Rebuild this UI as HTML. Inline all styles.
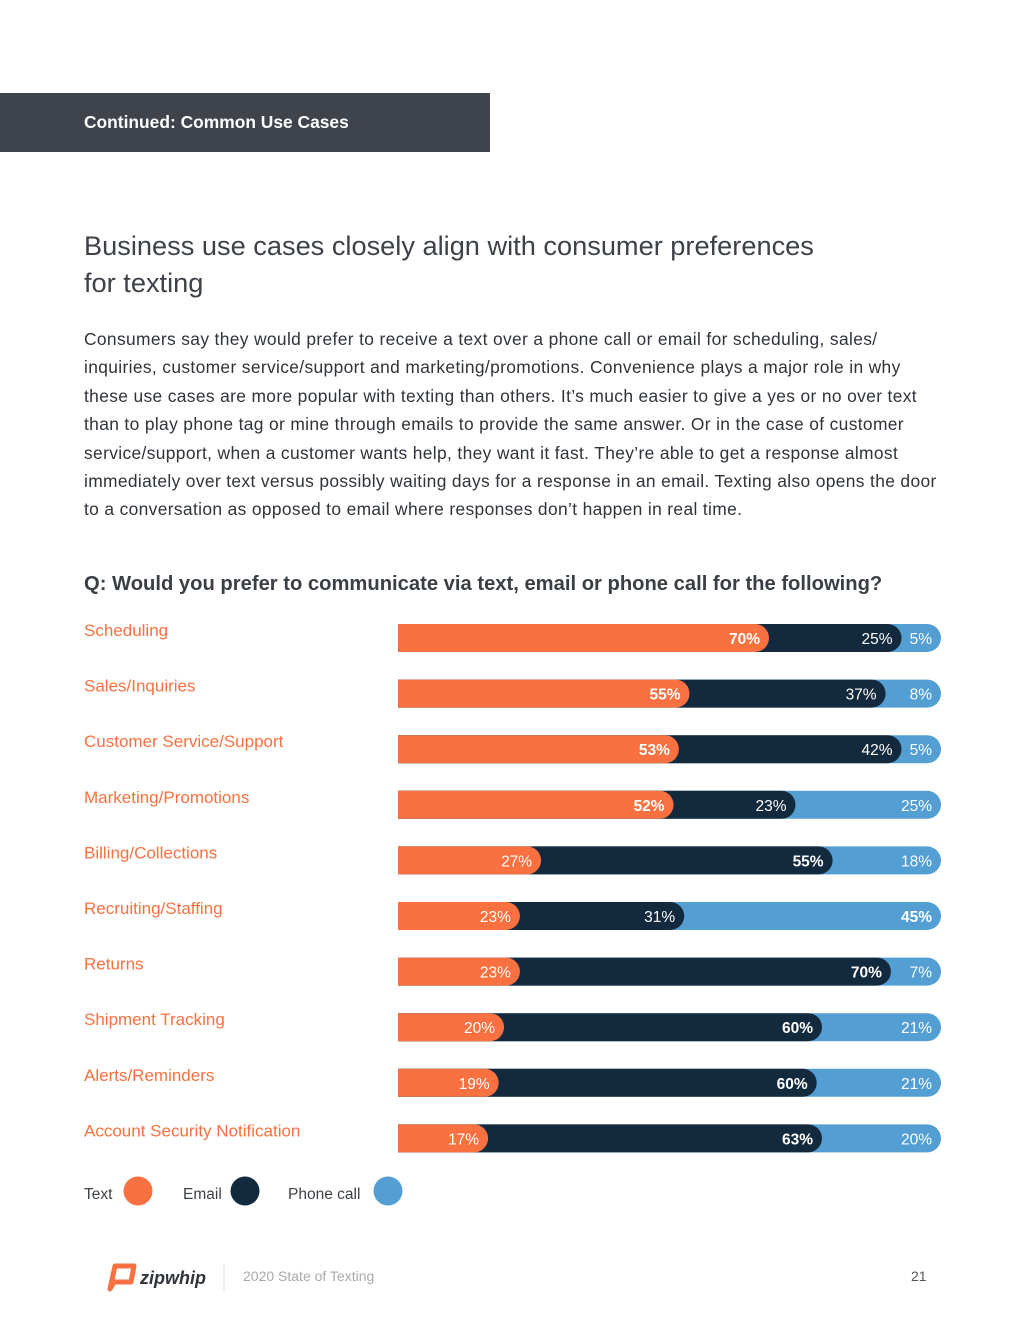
<!DOCTYPE html>
<html><head><meta charset="utf-8">
<style>
body{margin:0;width:1020px;height:1320px;background:#fff;position:relative;font-family:"Liberation Sans",sans-serif;overflow:hidden}
.hdr{position:absolute;left:0;top:93px;width:490px;height:59px;background:#3e434c;color:#fff;font-weight:bold;font-size:17.4px;line-height:59px;padding-left:84px;box-sizing:border-box}
.title{position:absolute;left:84px;top:227px;font-size:27.2px;line-height:37px;color:#3d4148;width:800px}
.para{position:absolute;left:84px;top:325px;font-size:17.4px;letter-spacing:0.35px;line-height:28.4px;color:#2f333a;width:900px}
.para div{white-space:nowrap}
.q{position:absolute;left:84px;top:573px;font-size:20.2px;font-weight:bold;color:#3a3e45;white-space:nowrap}
svg{position:absolute;left:0;top:0}
.foot{position:absolute;top:1268px;font-size:14px;color:#aaa}
</style></head><body>
<div class="hdr">Continued: Common Use Cases</div>
<div class="title">Business use cases closely align with consumer preferences<br>for texting</div>
<div class="para">
<div>Consumers say they would prefer to receive a text over a phone call or email for scheduling, sales/</div>
<div>inquiries, customer service/support and marketing/promotions. Convenience plays a major role in why</div>
<div>these use cases are more popular with texting than others. It’s much easier to give a yes or no over text</div>
<div>than to play phone tag or mine through emails to provide the same answer. Or in the case of customer</div>
<div>service/support, when a customer wants help, they want it fast. They’re able to get a response almost</div>
<div>immediately over text versus possibly waiting days for a response in an email. Texting also opens the door</div>
<div>to a conversation as opposed to email where responses don’t happen in real time.</div>
</div>
<div class="q">Q: Would you prefer to communicate via text, email or phone call for the following?</div>
<svg id="chart" width="1020" height="1320"></svg>
<div class="foot" style="left:243px">2020 State of Texting</div>
<div class="foot" style="left:911px;color:#555">21</div>
<script>
const categories=["Scheduling","Sales/Inquiries","Customer Service/Support","Marketing/Promotions","Billing/Collections","Recruiting/Staffing","Returns","Shipment Tracking","Alerts/Reminders","Account Security Notification"];
const textVals=[70,55,53,52,27,23,23,20,19,17];
const emailVals=[25,37,42,23,55,31,70,60,60,63];
const phoneVals=[5,8,5,25,18,45,7,21,21,20];
const legendLabels=["Text","Email","Phone call"];
const colors=["#f97140","#13293d","#539ed3"];
const NS="http://www.w3.org/2000/svg";
const svg=document.getElementById('chart');
const X0=398,XEND=941,SC=5.3,Y0=638,DY=55.6,H=28;
function x(v){return Math.min(XEND-20,X0+v*SC);}
function y(i){return Y0+i*DY;}
function mk(t,a){const e=document.createElementNS(NS,t);for(const k in a)e.setAttribute(k,a[k]);svg.appendChild(e);return e;}
function seg(x1,x2,yc,c){const r=H/2;const d=`M${x1},${yc-r}H${x2-r}A${r},${r} 0 0 1 ${x2-r},${yc+r}H${x1}Z`;return mk('path',{d:d,fill:c});}
categories.forEach((cat,i)=>{
  const yc=y(i);
  const lab=mk('text',{x:84,y:yc-2,'font-size':17,fill:'#f97140','font-family':'Liberation Sans, sans-serif'});
  lab.textContent=cat;
  
  
  const t=textVals[i],e=emailVals[i],p=phoneVals[i];
  const mx=Math.max(t,e,p);
  const endsX=[x(t),x(t+e),XEND];
  const vals=[t,e,p];
  const names=['bar-text','bar-email','bar-phone'];
  for(let k=2;k>=0;k--){
    const s=seg(X0,endsX[k],yc,colors[k]);
    
    
  }
  for(let k=0;k<3;k++){
    const v=mk('text',{x:endsX[k]-9,y:yc+6,'font-size':15.5,fill:'#fff','text-anchor':'end','font-weight':vals[k]===mx?'bold':'normal','font-family':'Liberation Sans, sans-serif'});
    v.textContent=vals[k]+'%';
    
    
  }
});
const lx=[84,183,288],cx=[138,245,388];
legendLabels.forEach((l,k)=>{
  const t=mk('text',{x:lx[k],y:1199,'font-size':15.5,fill:'#3d4148','font-family':'Liberation Sans, sans-serif'});
  t.textContent=l;
  
  
  const c=mk('circle',{cx:cx[k],cy:1191,r:14.5,fill:colors[k]});
  
  
});
const g=mk('path',{d:'M115,1266 H134 L131,1282 H114 L110,1289 Z',fill:'none',stroke:'#f97140','stroke-width':5,'stroke-linejoin':'round'});


const lt=mk('text',{x:140,y:1284,'font-size':18,'font-weight':'bold','font-style':'italic',fill:'#2f333a','font-family':'Liberation Sans, sans-serif'});
lt.textContent='zipwhip';


const sep=mk('line',{x1:224,y1:1263,x2:224,y2:1292,stroke:'#ddd','stroke-width':1});


</script>
</body></html>
